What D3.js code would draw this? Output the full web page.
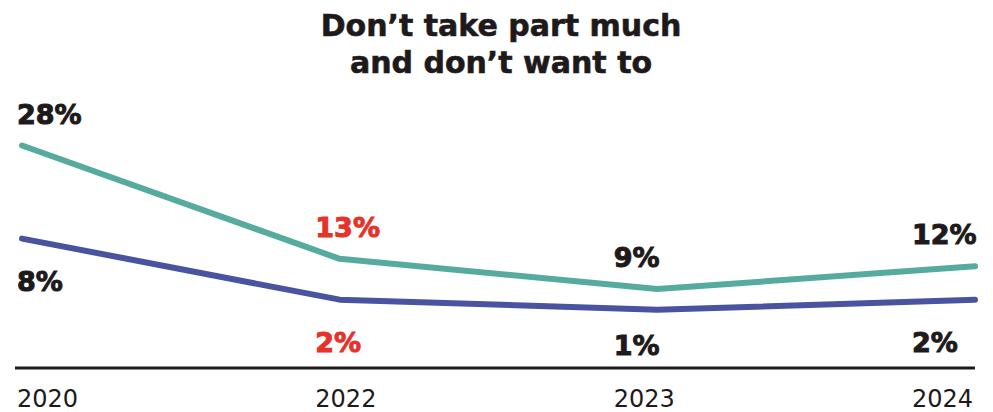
<!DOCTYPE html>
<html>
<head>
<meta charset="utf-8">
<script src="https://cdn.jsdelivr.net/npm/d3@7"></script>
<style>
  html, body { margin: 0; padding: 0; background: #ffffff; }
  svg { display: block; font-family: "DejaVu Sans", sans-serif; }
</style>
</head>
<body>
<svg id="chart" width="993" height="412"></svg>
<script>
// Share of respondents who don't take part much and don't want to
const years = ["2020", "2022", "2023", "2024"];
const upperValues = [28, 13, 9, 12];
const lowerValues = [8, 2, 1, 2];
// 2022 figures are highlighted in red
const highlightYear = "2022";
const titleLines = ["Don\u2019t take part much", "and don\u2019t want to"];

const W = 993, H = 412;
const svg = d3.select("#chart");

const colTeal = "#56ab9e";
const colNavy = "#4953a0";
const colRed = "#e5332a";
const colText = "#1e1a1b";

// column positions for labels, point positions for the lines
const xCol = d3.scalePoint().domain(years).range([17, 912]);
const xLine = d3.scalePoint().domain(years).range([22, 975]);

// each series has its own vertical scale
const yUpper = d3.scaleLinear().domain([0, 28]).range([357, 145.5]);
const yLower = d3.scaleLinear().domain([0, 8]).range([320, 238.6]);

const axisY = 368;

// title
svg.append("text")
  .attr("x", 501)
  .attr("text-anchor", "middle")
  .attr("font-weight", "bold")
  .attr("font-size", 30)
  .attr("fill", colText)
  .attr("stroke", colText)
  .attr("stroke-width", 0.6)
  .selectAll("tspan")
  .data(titleLines)
  .join("tspan")
  .attr("x", 501)
  .attr("y", (d, i) => 36 + i * 37)
  .text(d => d);

// baseline
svg.append("line")
  .attr("x1", 15).attr("x2", 975)
  .attr("y1", axisY).attr("y2", axisY)
  .attr("stroke", colText)
  .attr("stroke-width", 3);

// year labels
svg.append("g")
  .selectAll("text")
  .data(years)
  .join("text")
  .attr("x", d => xCol(d))
  .attr("y", 407)
  .attr("font-size", 24)
  .attr("fill", colText)
  .text(d => d);

const line = (ys) => d3.line()
  .x((d, i) => xLine(years[i]))
  .y(d => ys(d));

svg.append("path")
  .datum(lowerValues)
  .attr("d", line(yLower))
  .attr("fill", "none")
  .attr("stroke", colNavy)
  .attr("stroke-width", 6)
  .attr("stroke-linecap", "round")
  .attr("stroke-linejoin", "round");

svg.append("path")
  .datum(upperValues)
  .attr("d", line(yUpper))
  .attr("fill", "none")
  .attr("stroke", colTeal)
  .attr("stroke-width", 6)
  .attr("stroke-linecap", "round")
  .attr("stroke-linejoin", "round");

const labelColor = (d, i) => years[i] === highlightYear ? colRed : colText;

// value labels above the upper line
svg.append("g")
  .selectAll("text")
  .data(upperValues)
  .join("text")
  .attr("x", (d, i) => xCol(years[i]))
  .attr("y", d => yUpper(d) - 22)
  .attr("font-size", 27)
  .attr("font-weight", "bold")
  .attr("fill", labelColor)
  .attr("stroke", labelColor)
  .attr("stroke-width", 1)
  .text(d => d + "%");

// value labels below the lower line, kept above the baseline
svg.append("g")
  .selectAll("text")
  .data(lowerValues)
  .join("text")
  .attr("x", (d, i) => xCol(years[i]))
  .attr("y", d => Math.min(yLower(d) + 52, axisY - 13))
  .attr("font-size", 27)
  .attr("font-weight", "bold")
  .attr("fill", labelColor)
  .attr("stroke", labelColor)
  .attr("stroke-width", 1)
  .text(d => d + "%");
</script>
</body>
</html>
